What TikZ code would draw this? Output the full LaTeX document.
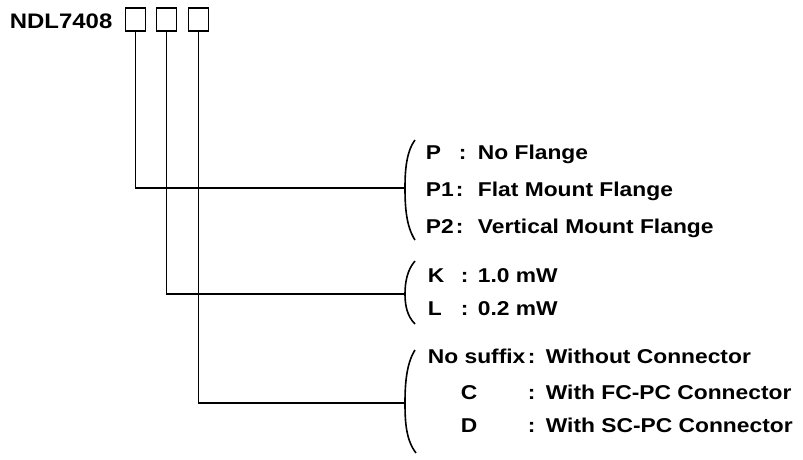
\documentclass[tikz,border=0pt]{standalone}
\usepackage{fontspec}
\newfontfamily\lab{Liberation Sans}[FakeStretch=1.14]
\begin{document}
\begin{tikzpicture}[x=1pt,y=-1pt,
  line width=1.8pt,
  txt/.style={inner sep=0pt,anchor=base west,font=\lab\bfseries\fontsize{20}{24}\selectfont},
  sbox/.style={draw,line width=1.5pt,minimum width=20pt,minimum height=23pt,inner sep=0pt},
  brc/.style={line width=1.6pt},
  lead/.style={line width=1.8pt}]
\useasboundingbox (0,0) rectangle (803,459);
\node[inner sep=0pt,anchor=base west,font=\lab\bfseries\fontsize{21}{24}\selectfont] (title) at (9,28) {NDL7408};
\node[sbox] (b1) at (135.5,19.5) {};
\node[sbox] (b2) at (166.5,19.5) {};
\node[sbox] (b3) at (198.5,19.5) {};
% brace tips
\coordinate (t1) at (405,188);
\coordinate (t2) at (405,294);
\coordinate (t3) at (405,403);
% braces
\draw[brc] (415,140) .. controls (406,152) and (405,172) .. (t1) .. controls (405,206) and (406,226) .. (415,240);
\draw[brc] (415,261) .. controls (407,270) and (405,283) .. (t2) .. controls (405,305) and (407,316) .. (415,324);
\draw[brc] (415,350) .. controls (406,364) and (405,386) .. (t3) .. controls (405,422) and (406,440) .. (416,453);
% leaders
\draw[lead] (b1.south) |- (t1);
\draw[lead] (b2.south) |- (t2);
\draw[lead] (b3.south) |- (t3);
% group 1
\node[txt] (p0k) at (425,159) {P};
\node[txt] (p0c) at (458,159) {:};
\node[txt] (p0v) at (477,159) {No Flange};
\node[txt] (p1k) at (425,196) {P1};
\node[txt] (p1c) at (455,196) {:};
\node[txt] (p1v) at (477,196) {Flat Mount Flange};
\node[txt] (p2k) at (425,233) {P2};
\node[txt] (p2c) at (455,233) {:};
\node[txt] (p2v) at (477,233) {Vertical Mount Flange};
% group 2
\node[txt] (kk) at (427,282) {K};
\node[txt] (kc) at (460,282) {:};
\node[txt] (kv) at (477,282) {1.0 mW};
\node[txt] (lk) at (427,315) {L};
\node[txt] (lc) at (460,315) {:};
\node[txt] (lv) at (477,315) {0.2 mW};
% group 3
\node[txt] (nk) at (427,363) {No suffix};
\node[txt] (nc) at (527,363) {:};
\node[txt] (nv) at (545,363) {Without Connector};
\node[txt] (ck) at (460,399) {C};
\node[txt] (cc) at (527,399) {:};
\node[txt] (cv) at (545,399) {With FC-PC Connector};
\node[txt] (dk) at (460,432) {D};
\node[txt] (dc) at (527,432) {:};
\node[txt] (dv) at (545,432) {With SC-PC Connector};
\end{tikzpicture}
\end{document}
